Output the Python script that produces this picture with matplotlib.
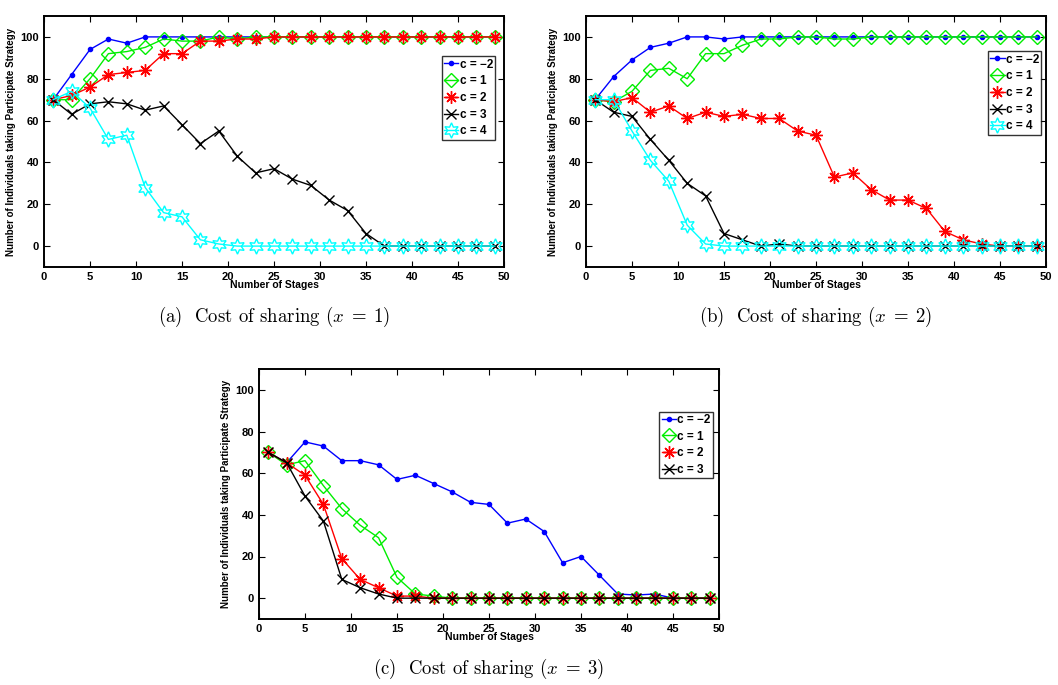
import matplotlib
matplotlib.use('Agg')
import matplotlib.pyplot as plt

plt.rcParams['font.family'] = ['Liberation Sans', 'DejaVu Sans']
plt.rcParams['mathtext.fontset'] = 'cm'

# stages
stages = list(range(1, 50, 2))

# (a) cost of sharing x = 1
a_cm2 = [70, 82, 94, 99, 97, 100, 100, 100, 100, 100, 100, 100, 100,
         100, 100, 100, 100, 100, 100, 100, 100, 100, 100, 100, 100]
a_c1 = [70, 70, 80, 92, 93, 95, 99, 98, 98, 100, 99, 100, 100,
        100, 100, 100, 100, 100, 100, 100, 100, 100, 100, 100, 100]
a_c2 = [70, 72, 76, 82, 83, 84, 92, 92, 98, 98, 99, 99, 100,
        100, 100, 100, 100, 100, 100, 100, 100, 100, 100, 100, 100]
a_c3 = [70, 63, 68, 69, 68, 65, 67, 58, 49, 55, 43, 35, 37,
        32, 29, 22, 17, 6, 0, 0, 0, 0, 0, 0, 0]
a_c4 = [70, 74, 66, 51, 53, 28, 16, 14, 3, 1, 0, 0, 0,
        0, 0, 0, 0, 0, 0, 0, 0, 0, 0, 0, 0]

# (b) cost of sharing x = 2
b_cm2 = [70, 81, 89, 95, 97, 100, 100, 99, 100, 100, 100, 100, 100,
         100, 100, 100, 100, 100, 100, 100, 100, 100, 100, 100, 100]
b_c1 = [70, 69, 74, 84, 85, 80, 92, 92, 96, 99, 99, 100, 100,
        99, 99, 100, 100, 100, 100, 100, 100, 100, 100, 100, 100]
b_c2 = [70, 69, 71, 64, 67, 61, 64, 62, 63, 61, 61, 55, 53,
        33, 35, 27, 22, 22, 18, 7, 3, 1, 0, 0, 0]
b_c3 = [70, 64, 62, 51, 41, 30, 24, 6, 3, 0, 1, 0, 0,
        0, 0, 0, 0, 0, 0, 0, 0, 0, 0, 0, 0]
b_c4 = [70, 70, 55, 41, 31, 10, 1, 0, 0, 0, 0, 0, 0,
        0, 0, 0, 0, 0, 0, 0, 0, 0, 0, 0, 0]

# (c) cost of sharing x = 3
c_cm2 = [70, 65, 75, 73, 66, 66, 64, 57, 59, 55, 51, 46, 45,
         36, 38, 32, 17, 20, 11, 2, 1.5, 2, 0, 0, 0]
c_c1 = [70, 64, 66, 54, 43, 35, 29, 10, 2, 1, 0, 0, 0,
        0, 0, 0, 0, 0, 0, 0, 0, 0, 0, 0, 0]
c_c2 = [70, 65, 59, 45, 19, 9, 5, 1, 1, 0, 0, 0, 0,
        0, 0, 0, 0, 0, 0, 0, 0, 0, 0, 0, 0]
c_c3 = [70, 65, 49, 37, 9, 5, 2, 0, 0, 0, 0, 0, 0,
        0, 0, 0, 0, 0, 0, 0, 0, 0, 0, 0, 0]

labels = ['c = \u22122', 'c = 1', 'c = 2', 'c = 3', 'c = 4']
styles = [
    dict(color='#0000ff', marker='.', markersize=6),
    dict(color='#00ee00', marker='D', markersize=7.5, markerfacecolor='none'),
    dict(color='#ff0000', marker=(8, 2, 0), markersize=9),
    dict(color='black', marker='x', markersize=7),
    dict(color='#00ffff', marker=(6, 1, 0), markersize=11, markerfacecolor='none'),
]


def draw_panel(ax, series, caption, legend_anchor):
    for vals, lab, st in zip(series, labels, styles):
        ax.plot(stages, vals, label=lab, linewidth=1.0, markeredgewidth=1.0, **st)
    ax.set_xlim(0, 50)
    ax.set_ylim(-10, 110)
    ax.set_xticks(range(0, 51, 5))
    ax.set_yticks(range(0, 101, 20))
    ax.tick_params(direction='in', top=True, right=True, labelsize=8, length=4, width=0.8)
    for t in ax.get_xticklabels() + ax.get_yticklabels():
        t.set_fontweight('bold')
    for sp in ax.spines.values():
        sp.set_linewidth(1.4)
    ax.set_xlabel('Number of Stages', fontsize=7.5, fontweight='bold', labelpad=-1.5)
    ax.set_ylabel('Number of Individuals taking Participate Strategy', fontsize=7, fontweight='bold', labelpad=3)
    leg = ax.legend(loc='upper left', bbox_to_anchor=legend_anchor,
                    prop={'weight': 'bold', 'size': 8.5}, frameon=True, fancybox=False,
                    edgecolor='black', handlelength=1.2, handletextpad=0.1,
                    borderpad=0.2, labelspacing=0.4, borderaxespad=0)
    leg.get_frame().set_linewidth(1.0)
    ax.text(0.5, -0.2, caption, transform=ax.transAxes, ha='center', va='center',
            fontsize=13.5, family='cmr10')


fig = plt.figure(figsize=(10.58, 6.85), dpi=100)

ax_a = fig.add_axes([44 / 1058, 1 - 267 / 685, 460 / 1058, 251 / 685])
draw_panel(ax_a, [a_cm2, a_c1, a_c2, a_c3, a_c4],
           '(a)  Cost of sharing $(x\\;=\\;1)$', (0.865, 0.84))

ax_b = fig.add_axes([586 / 1058, 1 - 267 / 685, 460 / 1058, 251 / 685])
draw_panel(ax_b, [b_cm2, b_c1, b_c2, b_c3, b_c4],
           '(b)  Cost of sharing $(x\\;=\\;2)$', (0.874, 0.86))

ax_c = fig.add_axes([259 / 1058, 1 - 619 / 685, 460 / 1058, 250 / 685])
draw_panel(ax_c, [c_cm2, c_c1, c_c2, c_c3],
           '(c)  Cost of sharing $(x\\;=\\;3)$', (0.87, 0.83))

fig.savefig('out.png', dpi=100)
